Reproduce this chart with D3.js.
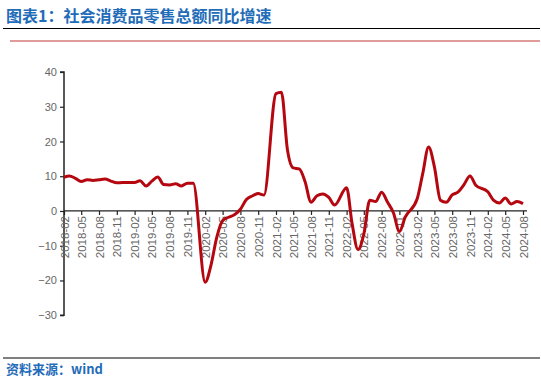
<!DOCTYPE html>
<html>
<head>
<meta charset="utf-8">
<script src="https://cdn.jsdelivr.net/npm/d3@7"></script>
<style>
  body { margin: 0; background: #fff; }
  svg { display: block; font-family: "Liberation Sans", Arial, sans-serif; }
</style>
</head>
<body>
<svg id="chart" width="541" height="386"></svg>
<script>
// monthly retail sales yoy (%), Jan and Feb reported together as Feb
const months = [
  '2018-02','2018-03','2018-04','2018-05','2018-06','2018-07','2018-08','2018-09','2018-10','2018-11','2018-12',
  '2019-02','2019-03','2019-04','2019-05','2019-06','2019-07','2019-08','2019-09','2019-10','2019-11','2019-12',
  '2020-02','2020-03','2020-04','2020-05','2020-06','2020-07','2020-08','2020-09','2020-10','2020-11','2020-12',
  '2021-02','2021-03','2021-04','2021-05','2021-06','2021-07','2021-08','2021-09','2021-10','2021-11','2021-12',
  '2022-02','2022-03','2022-04','2022-05','2022-06','2022-07','2022-08','2022-09','2022-10','2022-11','2022-12',
  '2023-02','2023-03','2023-04','2023-05','2023-06','2023-07','2023-08','2023-09','2023-10','2023-11','2023-12',
  '2024-02','2024-03','2024-04','2024-05','2024-06','2024-07','2024-08'
];
const yoy = [
  9.7, 10.1, 9.4, 8.5, 9.0, 8.8, 9.0, 9.2, 8.6, 8.1, 8.2,
  8.2, 8.7, 7.2, 8.6, 9.8, 7.6, 7.5, 7.8, 7.2, 8.0, 8.0,
  -20.5, -15.8, -7.5, -2.8, -1.8, -1.1, 0.5, 3.3, 4.3, 5.0, 4.6,
  33.8, 34.2, 17.7, 12.4, 12.1, 8.5, 2.5, 4.4, 4.9, 3.9, 1.7,
  6.7, -3.5, -11.1, -6.7, 3.1, 2.7, 5.4, 2.5, -0.5, -5.9, -1.8,
  3.5, 10.6, 18.4, 12.7, 3.1, 2.5, 4.6, 5.5, 7.6, 10.1, 7.4,
  5.5, 3.1, 2.3, 3.7, 2.0, 2.7, 2.1
];
const tickLabels = [
  '2018-02','2018-05','2018-08','2018-11','2019-02','2019-05','2019-08','2019-11',
  '2020-02','2020-05','2020-08','2020-11','2021-02','2021-05','2021-08','2021-11',
  '2022-02','2022-05','2022-08','2022-11','2023-02','2023-05','2023-08','2023-11',
  '2024-02','2024-05','2024-08'
];
const yTicks = [-30, -20, -10, 0, 10, 20, 30, 40];

const title = '图表1：社会消费品零售总额同比增速';
const source = '资料来源：wind';

const parse = d3.timeParse('%Y-%m');
const data = months.map((m, i) => ({ date: parse(m), value: yoy[i] }));

const svg = d3.select('#chart');

// header
svg.append('text')
  .attr('x', 6).attr('y', 22)
  .attr('fill', '#1f6cb8')
  .attr('font-size', 16).attr('font-weight', 'bold')
  .attr('font-family', '"Noto Sans CJK SC", sans-serif')
  .text(title);
svg.append('line')
  .attr('x1', 3).attr('x2', 540).attr('y1', 28.5).attr('y2', 28.5)
  .attr('stroke', '#000').attr('stroke-width', 1.2);
svg.append('line')
  .attr('x1', 10).attr('x2', 540).attr('y1', 41).attr('y2', 41)
  .attr('stroke', '#d67a7a').attr('stroke-width', 1.5);

// footer
svg.append('line')
  .attr('x1', 3).attr('x2', 540).attr('y1', 358).attr('y2', 358)
  .attr('stroke', '#000').attr('stroke-width', 1.2);
svg.append('text')
  .attr('x', 6).attr('y', 374)
  .attr('fill', '#1f6cb8')
  .attr('font-size', 13).attr('font-weight', 'bold')
  .attr('font-family', '"Noto Sans CJK SC", sans-serif')
  .text(source);

// scales
const x = d3.scaleTime()
  .domain([parse('2018-02'), parse('2024-08')])
  .range([64, 523]);
const y = d3.scaleLinear()
  .domain([-30, 40])
  .range([315.2, 72]);

// y axis
const yAxisG = svg.append('g')
  .attr('transform', 'translate(64,0)')
  .call(d3.axisLeft(y).tickValues(yTicks).tickSize(4).tickPadding(3).tickFormat(d => d < 0 ? '\u2212' + Math.abs(d) : d));
yAxisG.select('.domain').attr('stroke', '#222').attr('stroke-width', 1.5).attr('d', `M-4,${y(40)}H0V${y(-30)}H-4`);
yAxisG.selectAll('.tick line').attr('stroke', '#222').attr('stroke-width', 1.2);
yAxisG.selectAll('.tick text').attr('fill', '#666').attr('font-size', 11);

// x axis at zero
const xAxisG = svg.append('g')
  .attr('transform', `translate(0,${y(0)})`)
  .call(d3.axisBottom(x)
    .tickValues(tickLabels.map(parse))
    .tickSize(4).tickSizeOuter(0)
    .tickFormat(d3.timeFormat('%Y-%m')));
xAxisG.select('.domain').attr('stroke', '#222').attr('stroke-width', 1.2).attr('d', 'M64,0H527');
xAxisG.selectAll('.tick line').attr('stroke', '#222').attr('stroke-width', 1.2);
xAxisG.selectAll('.tick text')
  .attr('fill', '#666').attr('font-size', 11.5)
  .attr('transform', 'rotate(-90)')
  .attr('text-anchor', 'end')
  .attr('dy', '0.35em')
  .attr('x', -5).attr('y', 0);

// line
const line = d3.line()
  .x(d => x(d.date))
  .y(d => y(d.value))
  .curve(d3.curveMonotoneX);

svg.append('path')
  .datum(data)
  .attr('fill', 'none')
  .attr('stroke', '#b5070f')
  .attr('stroke-width', 3)
  .attr('stroke-linejoin', 'round')
  .attr('d', line);
</script>
</body>
</html>
